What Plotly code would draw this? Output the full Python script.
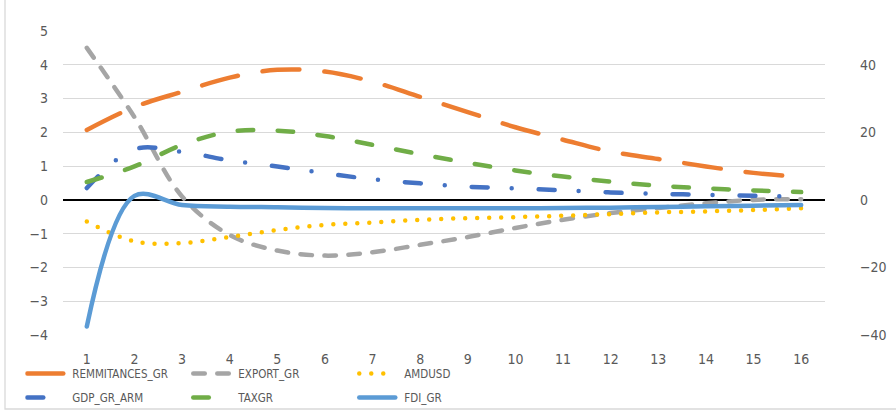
import plotly.graph_objects as go

# Impulse-response style horizons
periods = list(range(1, 17))

remmitances_gr = [2.07, 2.75, 3.2, 3.62, 3.85, 3.8, 3.5, 3.05, 2.6, 2.15, 1.78, 1.43, 1.21, 0.99, 0.8, 0.68]
export_gr = [4.5, 2.45, 0.1, -1.04, -1.5, -1.65, -1.55, -1.33, -1.1, -0.83, -0.59, -0.39, -0.24, -0.1, 0.0, 0.02]
amdusd = [-0.64, -1.23, -1.28, -1.1, -0.89, -0.74, -0.67, -0.59, -0.54, -0.51, -0.47, -0.42, -0.37, -0.34, -0.3, -0.25]
gdp_gr_arm = [0.35, 1.5, 1.42, 1.17, 0.99, 0.79, 0.61, 0.49, 0.39, 0.34, 0.28, 0.22, 0.18, 0.15, 0.12, 0.1]
taxgr = [0.53, 0.99, 1.63, 2.02, 2.05, 1.89, 1.63, 1.35, 1.1, 0.87, 0.69, 0.54, 0.42, 0.34, 0.28, 0.23]
# FDI is plotted against the secondary (right) axis
fdi_gr = [-37.5, 1.2, -1.5, -2.0, -2.2, -2.4, -2.5, -2.5, -2.5, -2.5, -2.4, -2.3, -2.1, -1.9, -1.7, -1.5]

left_ticks = list(range(-4, 6))
right_ticks = [-40, -20, 0, 20, 40]

FONT = "Liberation Sans Narrow, DejaVu Sans Condensed, Liberation Sans, sans-serif"
TXT = "#595959"
W = 4.5

series = [
    ("REMMITANCES_GR", remmitances_gr, "#ED7D31", "37px,25px", "y", "legend"),
    ("EXPORT_GR", export_gr, "#A5A5A5", "11.5px,12.5px", "y", "legend"),
    ("AMDUSD", amdusd, "#FFC000", "0px,12px", "y", "legend"),
    ("GDP_GR_ARM", gdp_gr_arm, "#4472C4", "16px,24px,0px,27px", "y", "legend2"),
    ("TAXGR", taxgr, "#70AD47", "15.5px,24.5px", "y", "legend2"),
    ("FDI_GR", fdi_gr, "#5B9BD5", "solid", "y2", "legend2"),
]

fig = go.Figure()
for name, vals, color, dash, axis, leg in series:
    fig.add_trace(go.Scatter(
        x=periods, y=vals, name=name, mode="lines", yaxis=axis, legend=leg,
        line=dict(color=color, width=W, dash=dash, shape="spline", smoothing=1.0),
        hoverinfo="skip",
    ))

legend_common = dict(
    orientation="h", xref="container", yref="container", xanchor="left", yanchor="top",
    entrywidth=114, itemwidth=37, font=dict(size=11.5, color=TXT), bgcolor="rgba(0,0,0,0)",
)

fig.update_layout(
    width=896, height=412,
    margin=dict(l=63, r=71, t=31, b=77),
    paper_bgcolor="white", plot_bgcolor="white",
    font=dict(family=FONT, color=TXT, size=14),
    xaxis=dict(
        range=[0.5, 16.5], tickvals=periods, ticktext=[str(p) for p in periods],
        showgrid=False, zeroline=False, showline=False, ticks="", automargin=False,
        ticklabelstandoff=14, tickfont=dict(size=14, color=TXT),
    ),
    yaxis=dict(
        range=[-4, 5], tickvals=left_ticks, showgrid=True, gridcolor="#D9D9D9", gridwidth=1.3,
        zeroline=True, zerolinecolor="black", zerolinewidth=2.2, showline=False, ticks="",
        automargin=False, ticklabelstandoff=14, tickfont=dict(size=14, color=TXT),
    ),
    yaxis2=dict(
        range=[-40, 50], overlaying="y", side="right", tickvals=right_ticks,
        showgrid=False, zeroline=False, showline=False, ticks="", automargin=False,
        ticklabelstandoff=34, tickfont=dict(size=14, color=TXT),
    ),
    legend=dict(x=0.0282, y=0.1287, **legend_common),
    legend2=dict(x=0.0282, y=0.0704, **legend_common),
    shapes=[dict(type="rect", xref="paper", yref="paper", x0=-0.0761, x1=1.3, y0=-0.2434, y1=1.2,
                 line=dict(color="#D9D9D9", width=1.3), fillcolor="rgba(0,0,0,0)", layer="below")],
    showlegend=True,
)

# Rounded stroke ends for the dashed/dotted line styles, longer legend samples
post = (
    "var s=document.createElement('style');"
    "s.textContent='.js-line{stroke-linecap:round !important;}';"
    "document.head.appendChild(s);"
    "document.querySelectorAll('.legendlines path').forEach(function(p){p.setAttribute('d','M2,0h36');});"
)
fig.write_html("out.html", post_script=post)
